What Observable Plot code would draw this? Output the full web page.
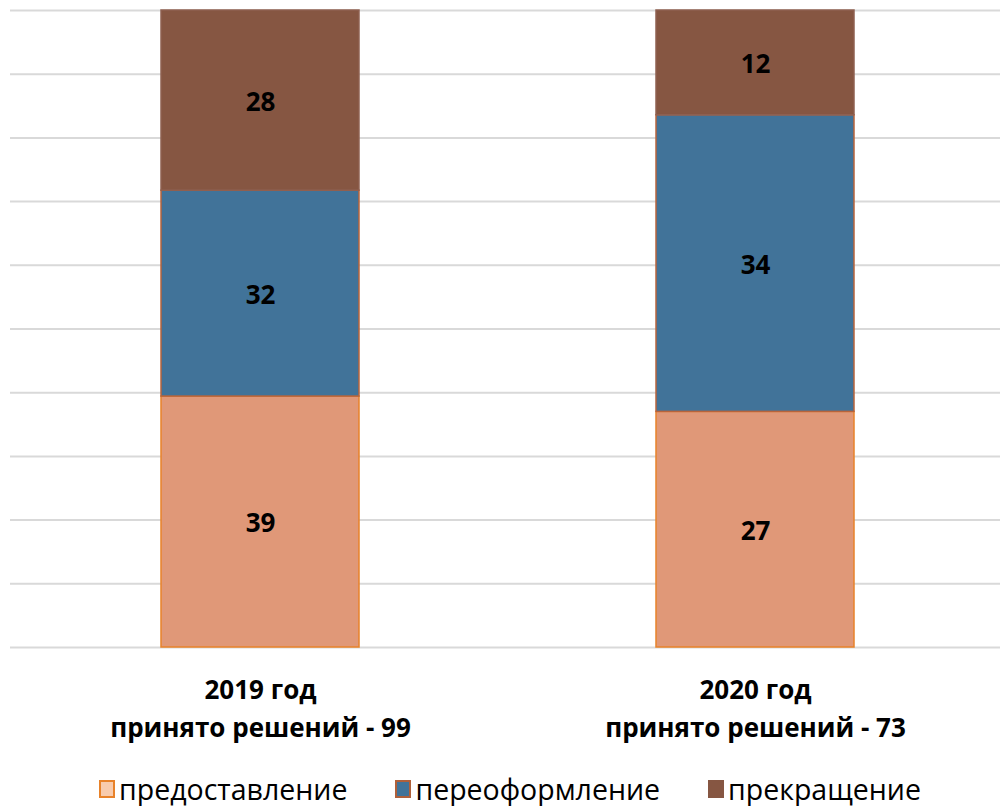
<!DOCTYPE html>
<html>
<head>
<meta charset="utf-8">
<script src="https://cdn.jsdelivr.net/npm/d3@7"></script>
<script src="https://cdn.jsdelivr.net/npm/@observablehq/plot@0.6"></script>
<style>
  html, body { margin: 0; padding: 0; background: #fff; }
  #legend { display: flex; justify-content: center; align-items: center; font-family: "Open Sans", sans-serif; font-size: 28.5px; color: #000; height: 36px; margin-top: 3px; padding-left: 20px; }
  .item { display: flex; align-items: center; margin: 0 24px; }
  .sw { width: 16px; height: 18px; margin-right: 4px; border: 2px solid; box-sizing: border-box; }
</style>
</head>
<body>
<div id="chart"></div>
<div id="legend"></div>
<script>
const years = ["2019", "2020"];
const yearLabels = ["2019 год\nпринято решений - 99", "2020 год\nпринято решений - 73"];
const series = ["предоставление", "переоформление", "прекращение"];
const values2019 = [39, 32, 28];
const values2020 = [27, 34, 12];
const gridTicks = [0, 0.1, 0.2, 0.3, 0.4, 0.5, 0.6, 0.7, 0.8, 0.9, 1];

const fills = {"предоставление": "#E09878", "переоформление": "#417399", "прекращение": "#865642"};
const strokes = {"предоставление": "#E8822A", "переоформление": "#B8643C", "прекращение": "#8E6050"};
const legendFills = {"предоставление": "#F8CBAD", "переоформление": "#417399", "прекращение": "#865642"};
const legendStrokes = {"предоставление": "#E8822A", "переоформление": "#B0603A", "прекращение": "#865642"};

const data = [];
[values2019, values2020].forEach((vals, i) => {
  series.forEach((s, j) => data.push({year: years[i], series: s, value: vals[j]}));
});

const font = "'Open Sans', sans-serif";
const plot = Plot.plot({
  width: 1000,
  height: 768,
  marginLeft: 10,
  marginRight: -4,
  marginTop: 10,
  marginBottom: 121,
  style: {fontFamily: font, background: "#fff", overflow: "hidden"},
  x: {domain: years, axis: null, paddingInner: 0.6, paddingOuter: 0.3024},
  y: {domain: [0, 1], axis: null},
  color: {type: "identity"},
  marks: [
    Plot.ruleY(gridTicks, {stroke: "#d9d9d9", strokeWidth: 2}),
    Plot.barY(data, Plot.stackY({offset: "normalize"}, {
      x: "year", y: "value",
      fill: d => fills[d.series],
      stroke: d => strokes[d.series],
      strokeWidth: 1.5
    })),
    Plot.text(data, Plot.stackY({offset: "normalize"}, {
      x: "year", y: "value",
      text: d => String(d.value),
      dy: 2,
      fill: "#000", fontSize: 26, fontWeight: "bold"
    })),
    Plot.text(years, {
      x: d => d,
      frameAnchor: "bottom",
      text: d => yearLabels[years.indexOf(d)],
      lineAnchor: "top",
      dy: 25,
      lineHeight: 1.45,
      fill: "#000", fontSize: 26, fontWeight: "bold"
    })
  ]
});
document.getElementById("chart").appendChild(plot);

const legend = document.getElementById("legend");
series.forEach(s => {
  const item = document.createElement("div");
  item.className = "item";
  const sw = document.createElement("span");
  sw.className = "sw";
  sw.style.background = legendFills[s];
  sw.style.borderColor = legendStrokes[s];
  const label = document.createElement("span");
  label.textContent = s;
  item.appendChild(sw);
  item.appendChild(label);
  legend.appendChild(item);
});
</script>
</body>
</html>
